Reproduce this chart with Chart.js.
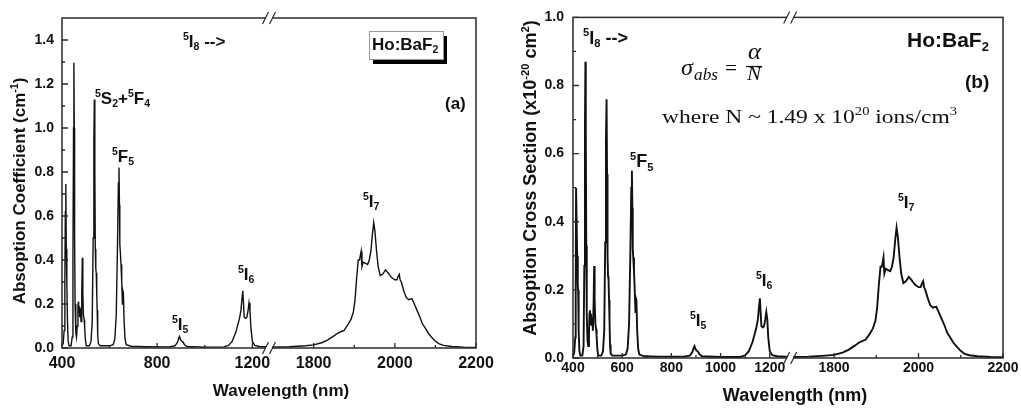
<!DOCTYPE html>
<html>
<head>
<meta charset="utf-8">
<script src="https://cdn.jsdelivr.net/npm/chart.js@4.4.1/dist/chart.umd.min.js"></script>
<style>
  body { margin: 0; background: #fff; width: 1021px; height: 408px; overflow: hidden; }
  canvas { position: absolute; top: 0; }
</style>
</head>
<body>
<canvas id="panelA" width="510" height="408" style="left:0"></canvas>
<canvas id="panelB" width="511" height="408" style="left:510px"></canvas>
<script>
// ---- panel (a): absorption coefficient (cm-1) ----
const wlA_vis = [400, 405, 409, 412, 414, 416, 418, 419.5, 421, 423, 426, 430,
  438, 443, 446, 448.5, 450, 451.5, 453, 455, 458, 461, 464, 467, 468.5, 470, 472, 474, 477, 480, 483, 485.5, 487.5, 490, 493, 495, 498, 502,
  515, 522, 527, 531, 534, 536, 538, 540, 542, 544, 546, 548, 550, 553, 560,
  600, 615, 622, 628, 633, 637, 639.5, 641.5, 643, 645, 648, 651, 654, 656, 658, 661, 665, 670, 690];
const alphaA_vis = [0.01, 0.02, 0.08, 0.30, 0.62, 0.745, 0.45, 0.32, 0.30, 0.12, 0.03, 0.01,
  0.01, 0.05, 0.40, 1.00, 1.297, 1.00, 0.50, 0.20, 0.07, 0.05, 0.10, 0.19, 0.21, 0.16, 0.19, 0.14, 0.18, 0.12, 0.25, 0.41, 0.25, 0.15, 0.13, 0.10, 0.04, 0.01,
  0.01, 0.03, 0.12, 0.50, 0.95, 1.13, 0.80, 0.45, 0.36, 0.34, 0.25, 0.17, 0.06, 0.02, 0.01,
  0.01, 0.015, 0.04, 0.15, 0.45, 0.75, 0.82, 0.65, 0.47, 0.44, 0.38, 0.30, 0.20, 0.26, 0.25, 0.12, 0.04, 0.015, 0.008];
const wlA_nir = [750, 850, 875, 885, 891, 894, 898, 903, 908, 915, 925, 1000, 1080, 1100, 1115, 1130, 1145, 1152, 1156, 1160,
  1163, 1166, 1172, 1177, 1182, 1186, 1190, 1194, 1200, 1210, 1230, 1270];
const alphaA_nir = [0.006, 0.005, 0.01, 0.025, 0.045, 0.052, 0.038, 0.032, 0.028, 0.015, 0.007, 0.004, 0.005, 0.012, 0.03, 0.07, 0.13, 0.17, 0.22, 0.26,
  0.20, 0.14, 0.135, 0.14, 0.17, 0.205, 0.17, 0.09, 0.03, 0.012, 0.007, 0.005];
const wlA_mir = [1690, 1740, 1780, 1800, 1820, 1834, 1850, 1860, 1868, 1875, 1884, 1892, 1898, 1902, 1906, 1910, 1913, 1915, 1917, 1919,
  1922, 1928, 1933, 1937, 1941, 1945, 1948, 1951, 1955, 1959, 1964, 1970, 1977, 1984, 1992, 2000, 2005, 2008, 2011, 2013,
  2016, 2022, 2028, 2034, 2042, 2048, 2055, 2062, 2068, 2075, 2083, 2090, 2098, 2108, 2120, 2140, 2170, 2200];
const alphaA_mir = [0.004, 0.006, 0.01, 0.014, 0.024, 0.036, 0.055, 0.068, 0.075, 0.08, 0.105, 0.13, 0.165, 0.22, 0.32, 0.40, 0.40, 0.42, 0.44, 0.37,
  0.39, 0.385, 0.38, 0.40, 0.44, 0.52, 0.57, 0.53, 0.44, 0.37, 0.33, 0.335, 0.355, 0.34, 0.32, 0.31, 0.31, 0.325, 0.335, 0.31,
  0.30, 0.26, 0.23, 0.22, 0.225, 0.20, 0.17, 0.14, 0.11, 0.09, 0.066, 0.05, 0.034, 0.02, 0.012, 0.007, 0.004, 0.003];

// ---- panel (b): absorption cross section (x1e-20 cm2) ----
const wlB_vis = [400, 405, 409, 411, 412.5, 415, 417, 419.5, 421, 423, 426, 430,
  438, 443, 446, 448.5, 450.5, 452, 454, 456, 459, 462, 465, 467, 469, 471, 473, 475, 478, 481, 484, 486, 488, 491, 494, 496, 499, 503,
  515, 522, 527, 531, 534, 536.5, 538.5, 540.5, 542.5, 544.5, 546.5, 548.5, 550.5, 553, 560,
  600, 615, 622, 628, 633, 637, 639.5, 641.5, 643, 645, 648, 651, 654, 656, 658, 661, 665, 670, 690];
const sigmaB_vis = [0.005, 0.015, 0.06, 0.20, 0.50, 0.50, 0.30, 0.21, 0.20, 0.08, 0.02, 0.007,
  0.007, 0.035, 0.27, 0.67, 0.87, 0.67, 0.33, 0.13, 0.05, 0.035, 0.07, 0.13, 0.14, 0.10, 0.13, 0.095, 0.12, 0.08, 0.17, 0.27, 0.17, 0.10, 0.085, 0.065, 0.025, 0.007,
  0.007, 0.02, 0.08, 0.34, 0.64, 0.76, 0.54, 0.30, 0.24, 0.23, 0.17, 0.11, 0.04, 0.013, 0.007,
  0.007, 0.01, 0.027, 0.10, 0.30, 0.50, 0.55, 0.44, 0.32, 0.295, 0.255, 0.20, 0.135, 0.175, 0.17, 0.08, 0.027, 0.01, 0.005];
const wlB_nir = [750, 850, 875, 885, 891, 894, 898, 903, 908, 915, 925, 1000, 1080, 1100, 1115, 1130, 1145, 1152, 1156, 1160,
  1163, 1166, 1172, 1177, 1182, 1186, 1190, 1194, 1200, 1210, 1230, 1283];
const sigmaB_nir = [0.004, 0.004, 0.007, 0.017, 0.03, 0.035, 0.026, 0.021, 0.019, 0.01, 0.005, 0.003, 0.003, 0.008, 0.02, 0.047, 0.087, 0.114, 0.148, 0.175,
  0.134, 0.094, 0.09, 0.094, 0.114, 0.135, 0.114, 0.06, 0.02, 0.008, 0.005, 0.003];
const wlB_mir = [1696, 1740, 1780, 1800, 1820, 1834, 1850, 1860, 1868, 1875, 1884, 1892, 1898, 1902, 1906, 1910, 1913, 1915, 1917, 1919,
  1922, 1928, 1933, 1937, 1941, 1945, 1948, 1951, 1955, 1959, 1964, 1970, 1977, 1984, 1992, 2000, 2005, 2008, 2011, 2013,
  2016, 2022, 2028, 2034, 2042, 2048, 2055, 2062, 2068, 2075, 2083, 2090, 2098, 2108, 2120, 2140, 2170, 2200];
const sigmaB_mir = [0.003, 0.004, 0.007, 0.009, 0.016, 0.024, 0.037, 0.046, 0.05, 0.054, 0.07, 0.087, 0.11, 0.148, 0.215, 0.268, 0.268, 0.28, 0.295, 0.248,
  0.262, 0.258, 0.255, 0.268, 0.295, 0.35, 0.383, 0.356, 0.295, 0.248, 0.22, 0.225, 0.238, 0.228, 0.215, 0.208, 0.208, 0.218, 0.225, 0.208,
  0.2, 0.175, 0.154, 0.148, 0.151, 0.134, 0.114, 0.094, 0.074, 0.06, 0.044, 0.034, 0.023, 0.013, 0.008, 0.005, 0.003, 0.002];

// axis ticks
const xLabelsA = [400, 800, 1200, 1800, 2000, 2200];
const xMinorA = [600, 1000, 1900, 2100];
const xLabelsB = [400, 600, 800, 1000, 1200, 1800, 2000, 2200];
const xMinorB = [500, 700, 900, 1100, 1900, 2100];
const yMinorA = [0.1, 0.3, 0.5, 0.7, 0.9, 1.1, 1.3];
const yMinorB = [0.1, 0.3, 0.5, 0.7, 0.9];

const SANS = '"Liberation Sans", Arial, sans-serif';
const SERIF = '"Liberation Serif", "Times New Roman", serif';

function pairs(xs, ys) {
  return xs.map((x, i) => ({ x: x, y: ys[i] }));
}

// linear axis with one break: each segment maps to its own share of the width
class BrokenScale extends Chart.LinearScale {
  toDecimal(v) {
    const segs = this.options.segments;
    for (const s of segs) {
      if (v <= s.to) {
        if (v < s.from) return s.start;
        return s.start + (v - s.from) / (s.to - s.from) * (s.end - s.start);
      }
    }
    return 1;
  }
  getPixelForValue(v) {
    return this.getPixelForDecimal(this.toDecimal(v));
  }
  getValueForPixel(p) {
    const d = this.getDecimalForPixel(p);
    for (const s of this.options.segments) {
      if (d <= s.end) return s.from + (d - s.start) / (s.end - s.start) * (s.to - s.from);
    }
    return this.max;
  }
  buildTicks() {
    return this.options.labelValues.map(v => ({ value: v }));
  }
}
BrokenScale.id = 'broken';
BrokenScale.defaults = {};
Chart.register(BrokenScale);

function fontStr(size, f) {
  return (f.style || '') + ' ' + (f.weight || '') + ' ' + size + 'px ' + f.family;
}
function richWidth(ctx, parts, size, f) {
  let w = 0;
  for (const [t, m] of parts) {
    ctx.font = fontStr(m ? size * 0.62 : size, f);
    w += ctx.measureText(t).width;
  }
  return w;
}
function drawRich(ctx, parts, x, y, size, f) {
  let cx = x;
  for (const [t, m] of parts) {
    ctx.font = fontStr(m ? size * 0.62 : size, f);
    const dy = m === 'sup' ? -size * 0.4 : m === 'sub' ? size * 0.2 : 0;
    ctx.fillText(t, cx, y + dy);
    cx += ctx.measureText(t).width;
  }
}

// frame, inward ticks, axis break, labels
function decor(cfg) {
  return {
    id: 'decor',
    afterDraw(chart) {
      const ctx = chart.ctx, a = chart.chartArea;
      const xs = chart.scales.x, ys = chart.scales.y;
      ctx.save();
      ctx.strokeStyle = '#2a2a2a';
      ctx.lineWidth = 1.3;
      ctx.beginPath();
      ys.ticks.forEach(t => { const y = ys.getPixelForValue(t.value); ctx.moveTo(a.left, y); ctx.lineTo(a.left + 6, y); });
      cfg.yMinor.forEach(v => { const y = ys.getPixelForValue(v); ctx.moveTo(a.left, y); ctx.lineTo(a.left + 3, y); });
      xs.ticks.forEach(t => { const x = xs.getPixelForValue(t.value); ctx.moveTo(x, a.bottom); ctx.lineTo(x, a.bottom - 5); });
      cfg.xMinor.forEach(v => { const x = xs.getPixelForValue(v); ctx.moveTo(x, a.bottom); ctx.lineTo(x, a.bottom - 3); });
      ctx.stroke();
      ctx.lineWidth = 1.5;
      ctx.strokeRect(a.left, a.top, a.right - a.left, a.bottom - a.top);

      // break marks on top and bottom axis
      const bp = xs.getPixelForValue(cfg.segments[0].to);
      [a.top, a.bottom].forEach(y => {
        ctx.fillStyle = '#fff';
        ctx.fillRect(bp - 3, y - 2, 6, 4);
        ctx.beginPath();
        [bp - 3.5, bp + 3.5].forEach(c => { ctx.moveTo(c - 3, y + 6); ctx.lineTo(c + 3, y - 6); });
        ctx.lineWidth = 1.2;
        ctx.stroke();
      });

      // boxed legend tag
      if (cfg.tagBox) {
        const b = cfg.tagBox;
        ctx.fillStyle = '#000';
        ctx.fillRect(b.x + 4, b.y + 5, b.w, b.h);
        ctx.fillStyle = '#fff';
        ctx.fillRect(b.x, b.y, b.w, b.h);
        ctx.strokeStyle = '#999';
        ctx.lineWidth = 1;
        ctx.strokeRect(b.x + 0.5, b.y + 0.5, b.w, b.h);
      }
      if (cfg.fracLine) {
        ctx.strokeStyle = '#111';
        ctx.lineWidth = 1.2;
        ctx.beginPath();
        ctx.moveTo(cfg.fracLine[0], cfg.fracLine[2]);
        ctx.lineTo(cfg.fracLine[1], cfg.fracLine[2]);
        ctx.stroke();
      }

      ctx.fillStyle = '#111';
      ctx.textBaseline = 'alphabetic';
      ctx.textAlign = 'left';
      cfg.texts.forEach(t => {
        const f = t.font || { weight: 'bold', family: SANS };
        const w = richWidth(ctx, t.parts, t.size, f);
        ctx.save();
        ctx.translate(t.x, t.y);
        if (t.rotate) ctx.rotate(-Math.PI / 2);
        if (t.fit) ctx.scale(t.fit / w, 1);
        const x0 = t.center ? -w / 2 : 0;
        drawRich(ctx, t.parts, x0, 0, t.size, f);
        ctx.restore();
      });
      ctx.restore();
    }
  };
}

function makeChart(id, cfg) {
  return new Chart(document.getElementById(id), {
    type: 'line',
    data: {
      datasets: [{
        data: cfg.points,
        borderColor: '#111',
        borderWidth: cfg.lineWidth,
        pointRadius: 0,
        tension: 0,
        fill: false
      }]
    },
    options: {
      responsive: false,
      animation: false,
      devicePixelRatio: 1,
      layout: { padding: cfg.padding },
      plugins: { legend: { display: false }, tooltip: { enabled: false } },
      scales: {
        x: {
          type: 'broken',
          min: 400,
          max: 2200,
          segments: cfg.segments,
          labelValues: cfg.xLabels,
          grid: { display: false, drawTicks: false },
          border: { display: false },
          ticks: {
            autoSkip: false, maxRotation: 0, padding: cfg.xPad, color: '#111',
            font: { family: SANS, weight: 'bold', size: cfg.xTickSize },
            callback: v => String(v)
          },
          afterFit: s => { s.height = cfg.xHeight; }
        },
        y: {
          type: 'linear',
          min: 0,
          max: cfg.yMax,
          grid: { display: false, drawTicks: false },
          border: { display: false },
          ticks: {
            stepSize: 0.2, includeBounds: false, padding: cfg.yPad, color: '#111',
            font: { family: SANS, weight: 'bold', size: cfg.yTickSize },
            callback: v => v.toFixed(1)
          },
          afterFit: s => { s.width = cfg.yWidth; }
        }
      }
    },
    plugins: [decor(cfg)]
  });
}

makeChart('panelA', {
  points: pairs(wlA_vis, alphaA_vis).concat(pairs(wlA_nir, alphaA_nir), pairs(wlA_mir, alphaA_mir)),
  lineWidth: 1.4,
  padding: { top: 18, right: 34, left: 0, bottom: 0 },
  segments: [{ from: 400, to: 1270, start: 0, end: 0.5 }, { from: 1690, to: 2200, start: 0.5, end: 1 }],
  xLabels: xLabelsA, xMinor: xMinorA, yMinor: yMinorA,
  yMax: 1.5, xPad: 6, yPad: 8, xTickSize: 16, yTickSize: 14, xHeight: 60, yWidth: 62,
  tagBox: { x: 369, y: 31, w: 74, h: 28 },
  texts: [
    { parts: [['Absoption Coefficient (cm', ''], ['-1', 'sup'], [')', '']], x: 25, y: 191, size: 17, rotate: true, center: true },
    { parts: [['Wavelength (nm)', '']], x: 281, y: 396, size: 17, center: true },
    { parts: [['5', 'sup'], ['I', ''], ['8', 'sub'], [' -->', '']], x: 183, y: 46.5, size: 17 },
    { parts: [['5', 'sup'], ['S', ''], ['2', 'sub'], ['+', ''], ['5', 'sup'], ['F', ''], ['4', 'sub']], x: 95, y: 104, size: 17 },
    { parts: [['5', 'sup'], ['F', ''], ['5', 'sub']], x: 112, y: 162, size: 17 },
    { parts: [['5', 'sup'], ['I', ''], ['5', 'sub']], x: 172, y: 330, size: 17 },
    { parts: [['5', 'sup'], ['I', ''], ['6', 'sub']], x: 238, y: 280, size: 17 },
    { parts: [['5', 'sup'], ['I', ''], ['7', 'sub']], x: 363, y: 206.5, size: 17 },
    { parts: [['Ho:BaF', ''], ['2', 'sub']], x: 372, y: 50, size: 17 },
    { parts: [['(a)', '']], x: 445, y: 109, size: 17 }
  ]
});

makeChart('panelB', {
  points: pairs(wlB_vis, sigmaB_vis).concat(pairs(wlB_nir, sigmaB_nir), pairs(wlB_mir, sigmaB_mir)),
  lineWidth: 1.9,
  padding: { top: 13, right: 18, left: 0, bottom: 0 },
  segments: [{ from: 400, to: 1283, start: 0, end: 0.505 }, { from: 1696, to: 2200, start: 0.505, end: 1 }],
  xLabels: xLabelsB, xMinor: xMinorB, yMinor: yMinorB,
  yMax: 1.0, xPad: 2, yPad: 9, xTickSize: 14, yTickSize: 14, xHeight: 50, yWidth: 63,
  fracLine: [236, 252, 66.5],
  texts: [
    { parts: [['Absoption Cross Section (x10', ''], ['-20', 'sup'], [' cm', ''], ['2', 'sup'], [')', '']], x: 26, y: 178, size: 18, rotate: true, center: true },
    { parts: [['Wavelength (nm)', '']], x: 285, y: 401, size: 18, center: true },
    { parts: [['5', 'sup'], ['I', ''], ['8', 'sub'], [' -->', '']], x: 73, y: 43.5, size: 18 },
    { parts: [['5', 'sup'], ['F', ''], ['5', 'sub']], x: 120, y: 167, size: 18 },
    { parts: [['5', 'sup'], ['I', ''], ['5', 'sub']], x: 180, y: 326, size: 17 },
    { parts: [['5', 'sup'], ['I', ''], ['6', 'sub']], x: 246, y: 286, size: 17 },
    { parts: [['5', 'sup'], ['I', ''], ['7', 'sub']], x: 388, y: 208, size: 17 },
    { parts: [['Ho:BaF', ''], ['2', 'sub']], x: 397, y: 46.5, size: 21 },
    { parts: [['(b)', '']], x: 455, y: 88, size: 19 },
    { parts: [['\u03c3', '']], x: 171, y: 75, size: 24, fit: 12, font: { style: 'italic', family: SERIF } },
    { parts: [['abs', '']], x: 184, y: 80, size: 16, fit: 24, font: { style: 'italic', family: SERIF } },
    { parts: [['=', '']], x: 215, y: 75, size: 22, fit: 12, font: { family: SERIF } },
    { parts: [['\u03b1', '']], x: 238, y: 59, size: 23, fit: 13, font: { style: 'italic', family: SERIF } },
    { parts: [['N', '']], x: 237, y: 80, size: 19, fit: 14, font: { style: 'italic', family: SERIF } },
    { parts: [['where N ~ 1.49 x 10', ''], ['20', 'sup'], [' ions/cm', ''], ['3', 'sup']], x: 152, y: 123, size: 19, fit: 295, font: { family: SERIF } }
  ]
});
</script>
</body>
</html>
